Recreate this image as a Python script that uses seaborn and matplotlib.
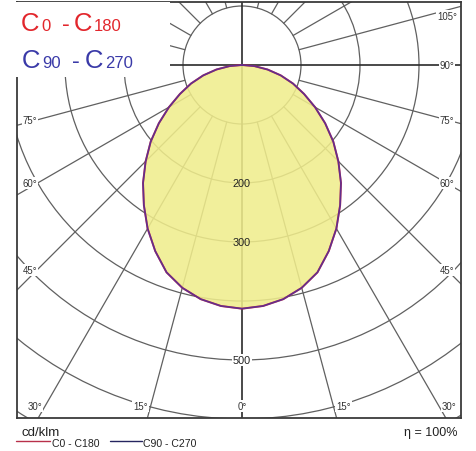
import numpy as np
import matplotlib
matplotlib.use("Agg")
import matplotlib.pyplot as plt
import seaborn as sns
from matplotlib.patches import Circle, Rectangle
from matplotlib.lines import Line2D

# gamma angles (deg) and luminous intensity (cd/klm)
gamma = [0, 5, 10, 15, 20, 25, 30, 35, 40, 45, 50, 55, 60, 65, 70, 75, 80, 85, 90]
c0_c180 = [413, 410, 403, 391, 374, 348, 320, 290, 261, 231, 202, 172, 143, 116, 92, 68, 44, 21, 0]
c90_c270 = [413, 410, 403, 391, 374, 348, 320, 290, 261, 231, 202, 172, 143, 116, 92, 68, 44, 21, 0]

ring_values = [100, 200, 300, 400, 500, 600, 700]
ring_labels = [200, 300, 500]
spoke_angles = list(range(0, 360, 15))
label_angles_right = [0, 15, 30, 45, 60, 75, 90, 105]
label_angles_left = [15, 30, 45, 60, 75]

W, H = 476, 452
S = 0.59            # pixels per cd/klm
CX, CY = 242, 66    # pole position in pixels
BOX = (17, 3, 461, 419)  # left, top, right, bottom in pixels


def px_to_fig(x, y):
    return x / W, 1 - y / H


def polar_xy(angles_deg, values):
    a = np.radians(np.asarray(angles_deg, dtype=float))
    v = np.asarray(values, dtype=float)
    return v * np.sin(a), -v * np.cos(a)


def full_curve(values):
    # left half (C180 / C270) mirrored from the right half (C0 / C90)
    angles = [-g for g in gamma[::-1]] + gamma[1:]
    vals = list(values[::-1]) + list(values[1:])
    return polar_xy(angles, vals)


sns.set_style("white")
plt.rcParams["font.family"] = ["Liberation Sans", "DejaVu Sans"]

fig = plt.figure(figsize=(W / 100, H / 100), dpi=100)
l, t, r, b = BOX
ax = fig.add_axes([l / W, 1 - b / H, (r - l) / W, (b - t) / H])
ax.set_xlim((l - CX) / S, (r - CX) / S)
ax.set_ylim((CY - b) / S, (CY - t) / S)
ax.set_xticks([])
ax.set_yticks([])
for sp in ax.spines.values():
    sp.set_color("#3a3a3a")
    sp.set_linewidth(1.3)

# grid: rings
for rv in ring_values:
    ax.add_patch(Circle((0, 0), rv, fill=False, ec="#606060", lw=0.9, zorder=1))

# grid: spokes
for a in spoke_angles:
    main = a % 90 == 0
    r0 = 0 if main else 100
    xs, ys = polar_xy([a, a], [r0, 1200])
    ax.plot(xs, ys, color="#2a2a2a" if main else "#606060", lw=1.2 if main else 0.9, zorder=1)

# photometric curves
x1, y1 = full_curve(c0_c180)
x2, y2 = full_curve(c90_c270)
ax.fill(x1, y1, color="#f0ed8c", alpha=0.87, lw=0, zorder=2)
sns.lineplot(x=x1, y=y1, sort=False, estimator=None, color="#d02030", lw=1.4, ax=ax, zorder=3)
sns.lineplot(x=x2, y=y2, sort=False, estimator=None, color="#3535b5", lw=1.2, alpha=0.7, ax=ax, zorder=3)

# ring value labels
for rv in ring_labels:
    bb = dict(boxstyle="square,pad=0.05", fc="white", ec="none") if rv > max(c0_c180) else None
    ax.text(0, -rv, str(rv), ha="center", va="center", fontsize=7.8, color="#222222", zorder=4, bbox=bb)

# angle labels along the frame
half_w = 205 / S
bottom = 341 / S
top = 49 / S
shift = 10 / S
right_col = (447 - CX) / S
left_col = (30 - CX) / S
lab_box = dict(boxstyle="square,pad=0.1", fc="white", ec="none")


def angle_label(a, side):
    g = np.radians(a)
    t_side = half_w / np.sin(g) if np.sin(g) > 1e-9 else np.inf
    t_bot = bottom / np.cos(g) if np.cos(g) > 1e-9 else np.inf
    if t_bot <= t_side:
        x = side * (t_bot * np.sin(g) + (shift if a > 0 else 0))
        y = -bottom
    else:
        x = right_col if side > 0 else left_col
        y = min(-t_side * np.cos(g), top)
    ax.text(x, y, f"{a}°", ha="center", va="center", fontsize=6.9, color="#333333",
            zorder=4, bbox=lab_box)


for a in label_angles_right:
    angle_label(a, 1)
for a in label_angles_left:
    angle_label(a, -1)

# white block behind the C-plane legend
ax.add_patch(Rectangle(((l - CX) / S - 6, (CY - 78) / S), (170 - l) / S + 6, (78 - t) / S,
                       fc="white", ec="none", zorder=5, clip_on=False))

# top-left legend: C0 - C180 / C90 - C270
red, blue = "#e2262c", "#3a3aa8"
pieces = [
    (21, 31, "C", 18.5, red), (41, 31, "0", 12, red), (62, 31, "-", 17, red),
    (74, 31, "C", 18.5, red), (94, 31, "180", 12, red),
    (22, 68, "C", 18.5, blue), (42, 68, "90", 12, blue), (72, 68, "-", 17, blue),
    (85, 68, "C", 18.5, blue), (105, 68, "270", 12, blue),
]
for px, py, txt, fs, col in pieces:
    fx, fy = px_to_fig(px, py)
    fig.text(fx, fy, txt, fontsize=fs, color=col, ha="left", va="baseline", zorder=6)

# bottom legend
fx, fy = px_to_fig(22, 436)
fig.text(fx, fy, "cd/klm", fontsize=9.5, color="#222222", ha="left", va="baseline")
fx, fy = px_to_fig(458, 436)
fig.text(fx, fy, "η = 100%", fontsize=9, color="#222222", ha="right", va="baseline")

for x0, x1_, tx, txt, col in [(16, 50, 52, "C0 - C180", "#b8304a"), (110, 142, 143, "C90 - C270", "#252560")]:
    (fa, fb), (fc, _) = px_to_fig(x0, 442), px_to_fig(x1_, 442)
    fig.add_artist(Line2D([fa, fc], [fb, fb], color=col, lw=1.0, transform=fig.transFigure))
    fx, fy = px_to_fig(tx, 447)
    fig.text(fx, fy, txt, fontsize=7.6, color="#222222", ha="left", va="baseline")

fig.savefig("out.png", dpi=100)
plt.close(fig)
